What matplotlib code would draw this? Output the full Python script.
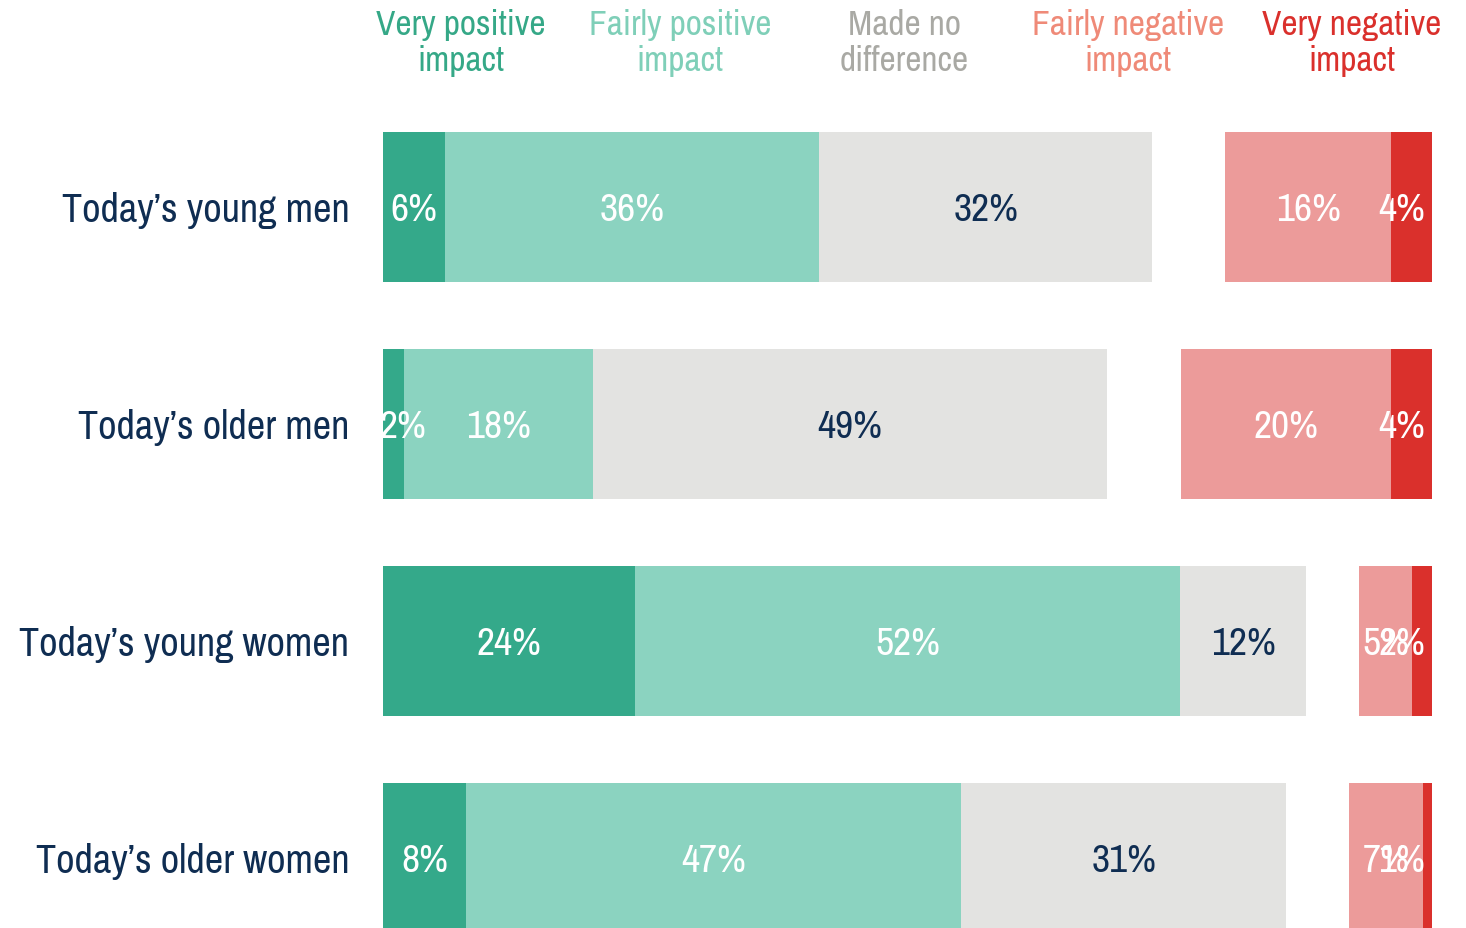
import matplotlib
matplotlib.use("Agg")
import matplotlib.pyplot as plt
from matplotlib import font_manager as fm

# ---- data ----
groups = ["Today\u2019s young men", "Today\u2019s older men",
          "Today\u2019s young women", "Today\u2019s older women"]
categories = ["Very positive\nimpact", "Fairly positive\nimpact", "Made no\ndifference",
              "Don't know", "Fairly negative\nimpact", "Very negative\nimpact"]
very_positive = [5.9, 2.0, 24.0, 7.9]
fairly_positive = [35.7, 18.0, 52.0, 47.2]
no_difference = [31.7, 49.0, 12.0, 31.0]
dont_know = [7.0, 7.1, 5.0, 6.0]
fairly_negative = [15.8, 20.0, 5.1, 7.0]
very_negative = [3.9, 3.9, 1.9, 0.9]

series = [very_positive, fairly_positive, no_difference, dont_know, fairly_negative, very_negative]
bar_colors = ["#34a98a", "#8bd3c0", "#e3e3e1", None, "#ec9b9a", "#da302c"]
head_colors = ["#35a887", "#7fcfb8", "#a9a9a4", None, "#ef8a78", "#da302c"]
lab_colors = ["white", "white", "#0f2d52", None, "white", "white"]
navy = "#0f2d52"

avail = {f.name for f in fm.fontManager.ttflist}
fam = next((f for f in ["Archivo Narrow", "Roboto Condensed", "Barlow Semi Condensed", "DejaVu Sans"] if f in avail))
plt.rcParams["font.family"] = [fam, "DejaVu Sans"]

W, H = 1466, 929
fig = plt.figure(figsize=(W / 100, H / 100), dpi=100)
x0, x1 = 383, 1432
top_px = 99.5
ax = fig.add_axes([x0 / W, 0, (x1 - x0) / W, 1 - top_px / H])
row_px = 217.0
ax.set_xlim(0, 100)
ax.set_ylim((H - 208) / row_px, -0.5)
ax.axis("off")

ypos = list(range(len(groups)))
left = [0.0] * len(groups)
bars = []
for s, c in zip(series, bar_colors):
    if c is not None:
        ax.barh(ypos, s, left=left, height=0.69, color=c, edgecolor="none")
    bars.append(list(left))
    left = [l + v for l, v in zip(left, s)]

dy = 2.5 / row_px
fig.canvas.draw()
r = fig.canvas.get_renderer()
for si, (s, lc) in enumerate(zip(series, lab_colors)):
    if lc is None:
        continue
    for gi in range(len(groups)):
        cx = bars[si][gi] + s[gi] / 2
        t = ax.text(cx, gi + dy, f"{round(s[gi])}%", ha="center", va="center", color=lc,
                    fontsize=28.5, clip_on=True)
        bb = t.get_window_extent(r)
        w = bb.width / ((x1 - x0) / 100)
        lo, hi = -0.3 + w / 2, 99.35 - w / 2
        t.set_x(min(max(cx, lo), hi))

for gi, g in enumerate(groups):
    ax.text(-3.2, gi + dy, g, ha="right", va="center", color=navy, fontsize=29)

head_x = [461, 680, 904, None, 1128, 1352]
for cat, hx, hc in zip(categories, head_x, head_colors):
    if hx is None:
        continue
    fig.text(hx / W, 1 - 43 / H, cat, ha="center", va="center", color=hc,
             fontsize=25.5, linespacing=1.17)

fig.savefig("out.png")
